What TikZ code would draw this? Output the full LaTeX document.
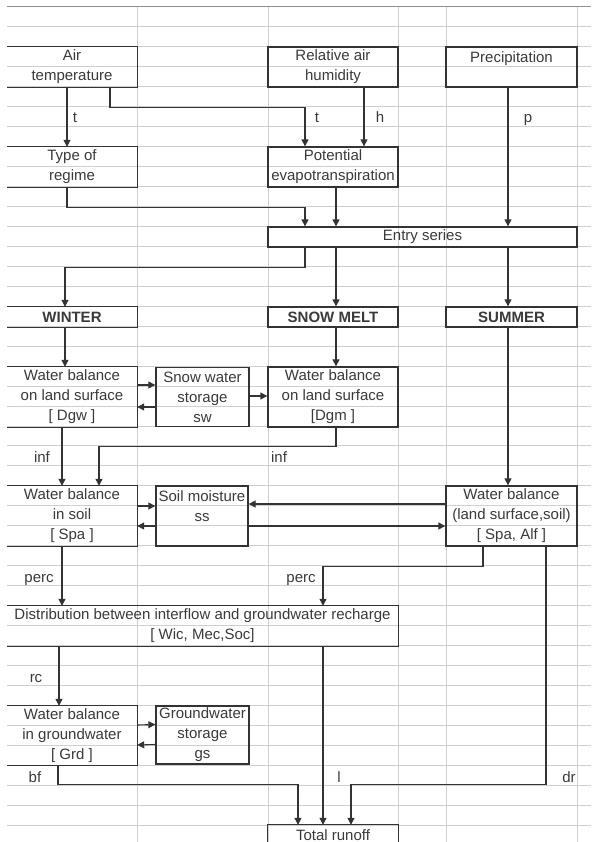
\documentclass[tikz,border=0pt]{standalone}
\usepackage{fontspec}
\setmainfont{Liberation Sans}
\usetikzlibrary{arrows.meta,calc}
\definecolor{linec}{HTML}{333333}
\definecolor{txtc}{HTML}{3A3A3A}
\definecolor{gridc}{HTML}{CFCFCF}
\begin{document}
\begin{tikzpicture}[x=1pt,y=-1pt,
  gridline/.style={draw=gridc, line width=0.9pt},
  border/.style={draw=linec, line width=1.3pt},
  box/.style={rectangle, inner sep=0pt, align=center, text=txtc,
    font=\fontsize{15}{20}\selectfont},
  fullbox/.style={box, border},
  openbox/.style={box, draw=none},
  boldbox/.style={box, font=\fontsize{15}{20}\selectfont\bfseries},
  arr/.style={draw=linec, line width=1.1pt, -{Triangle[length=7pt,width=7pt]}},
  lbl/.style={inner sep=0pt, text=txtc, font=\fontsize{15}{18}\selectfont, anchor=base}
]
\useasboundingbox (0,0) rectangle (591,842);
\clip (0,0) rectangle (591,842);
\fill[white] (0,0) rectangle (591,842);
% spreadsheet grid
\foreach \k in {1,...,41} \draw[gridline] (7,{7+19.95*\k}) -- (591,{7+19.95*\k});
\draw[draw=gridc!70!black, line width=1pt] (7,7) -- (591,7);
\foreach \x in {137,268,398,446,577} \draw[gridline] (\x,7) -- (\x,842);

% boxes
\node[openbox, minimum width=130, minimum height=40] (air) at (72,67) {Air\\temperature};
\node[fullbox, minimum width=130, minimum height=40] (rh) at (333,67) {Relative air\\humidity};
\node[fullbox, minimum width=131, minimum height=40] (prec) at (511.5,67) {Precipitation\\~};
\node[openbox, minimum width=130, minimum height=40] (tr) at (72,167) {Type of\\regime};
\node[fullbox, minimum width=130, minimum height=40] (pet) at (333,167) {Potential\\evapotranspiration};
\node[fullbox, minimum width=309, minimum height=20] (entry) at (422.5,237) {Entry series};
\node[openbox, boldbox, minimum width=130, minimum height=20] (winter) at (72,317) {WINTER};
\node[fullbox, boldbox, minimum width=130, minimum height=20] (snowmelt) at (333,317) {SNOW MELT};
\node[fullbox, boldbox, minimum width=131, minimum height=20] (summer) at (511.5,317) {SUMMER};
\node[openbox, minimum width=130, minimum height=60] (dgw) at (72,397) {Water balance\\on land surface\\{[} Dgw ]};
\node[fullbox, minimum width=93, minimum height=59] (sws) at (202.5,397) {Snow water\\storage\\sw};
\node[fullbox, minimum width=130, minimum height=60] (dgm) at (333,397) {Water balance\\on land surface\\{[}Dgm ]};
\node[openbox, minimum width=130, minimum height=60] (spa) at (72,516) {Water balance\\in soil\\{[} Spa ]};
\node[fullbox, minimum width=92, minimum height=60] (sm) at (202,516) {Soil moisture\\ss\\~};
\node[fullbox, minimum width=131, minimum height=60] (wbls) at (511.5,516) {Water balance\\(land surface,soil)\\{[} Spa, Alf ]};
\node[openbox, minimum width=391, minimum height=40] (dist) at (202.5,626) {Distribution between interflow and groundwater recharge\\{[} Wic, Mec,Soc]};
\node[openbox, minimum width=130, minimum height=59] (grd) at (72,735.5) {Water balance\\in groundwater\\{[} Grd ]};
\node[fullbox, minimum width=93, minimum height=58] (gws) at (202.5,735) {Groundwater\\storage\\gs};
\node[openbox, minimum width=130, minimum height=20] (total) at (333,835) {Total runoff};

% borders of boxes cut by the left edge
\foreach \n in {air,tr,winter,dgw,spa,dist,grd}
  \draw[border] (\n.north west) -- (\n.north east) -- (\n.south east) -- (\n.south west);
\draw[border] ([yshift=-20]total.south west) -- (total.north west) -- (total.north east) -- ([yshift=-20]total.south east);

% connectors
\draw[arr] ([xshift=-5]air.south) -- ([xshift=-5]tr.north);
\draw[arr] ([xshift=38]air.south) |- ++(0,20) -| ([xshift=-28]pet.north);
\draw[arr] ([xshift=31]rh.south) -- ([xshift=31]pet.north);
\draw[arr] ([xshift=-3.5]prec.south) -- ([xshift=-3.5]prec.south |- entry.north);
\draw[arr] ([xshift=-5]tr.south) |- ++(0,20) -| ([xshift=-117.5]entry.north);
\draw[arr] ([xshift=3]pet.south) -- ([xshift=3]pet.south |- entry.north);
\draw[arr] ([xshift=-117.5]entry.south) |- ++(0,20) -| ([xshift=-7]winter.north);
\draw[arr] ([xshift=3]snowmelt.north |- entry.south) -- ([xshift=3]snowmelt.north);
\draw[arr] ([xshift=-3.5]summer.north |- entry.south) -- ([xshift=-3.5]summer.north);
\draw[arr] ([xshift=-7]winter.south) -- ([xshift=-7]dgw.north);
\draw[arr] ([xshift=3]snowmelt.south) -- ([xshift=3]dgm.north);
\draw[arr] ([xshift=-3.5]summer.south) -- ([xshift=-3.5]wbls.north);
\draw[arr] ([yshift=12]dgw.east) -- ([yshift=12]sws.west);
\draw[arr] ([yshift=-10]sws.west) -- ([yshift=-10]dgw.east);
\draw[arr] ([yshift=1]sws.east) -- ([yshift=1]dgm.west);
\draw[arr] ([xshift=-10]dgw.south) -- ([xshift=-10]spa.north);
\draw[arr] ([xshift=3]dgm.south) |- ++(0,19) -| ([xshift=27]spa.north);
\draw[arr] ([yshift=10]spa.east) -- ([yshift=10]sm.west);
\draw[arr] ([yshift=-10]sm.west) -- ([yshift=-10]spa.east);
\draw[arr] ([yshift=12]wbls.west) -- ([yshift=12]sm.east);
\draw[arr] ([yshift=-10]sm.east) -- ([yshift=-10]wbls.west);
\draw[arr] ([xshift=-10]spa.south) -- ([xshift=-10]spa.south |- dist.north);
\draw[arr] ([xshift=-28.5]wbls.south) |- ++(0,20) -| ([xshift=120.5]dist.north);
\draw[arr] ([xshift=34.5]wbls.south) |- ++(0,238) -| ([xshift=18]total.north);
\draw[arr] ([xshift=120.5]dist.south) -- ([xshift=120.5]dist.south |- total.north);
\draw[arr] ([xshift=-13]grd.north |- dist.south) -- ([xshift=-13]grd.north);
\draw[arr] ([yshift=10.5]grd.east) -- ([yshift=10.5]gws.west);
\draw[arr] ([yshift=-9.5]gws.west) -- ([yshift=-9.5]grd.east);
\draw[arr] ([xshift=-14]grd.south) |- ++(0,19) -| ([xshift=-35]total.north);

% flow labels
\node[lbl] (lt1) at (75,122.5) {t};
\node[lbl] (lt2) at (317,122.5) {t};
\node[lbl] (lh) at (380,122.5) {h};
\node[lbl] (lp) at (528,122.5) {p};
\node[lbl] (linf1) at (42,462.5) {inf};
\node[lbl] (linf2) at (279,462.5) {inf};
\node[lbl] (lperc1) at (39,582) {perc};
\node[lbl] (lperc2) at (301,582) {perc};
\node[lbl] (lrc) at (36,682) {rc};
\node[lbl] (lbf) at (35,782) {bf};
\node[lbl] (ll) at (339,782) {l};
\node[lbl] (ldr) at (569,782) {dr};
\end{tikzpicture}
\end{document}
